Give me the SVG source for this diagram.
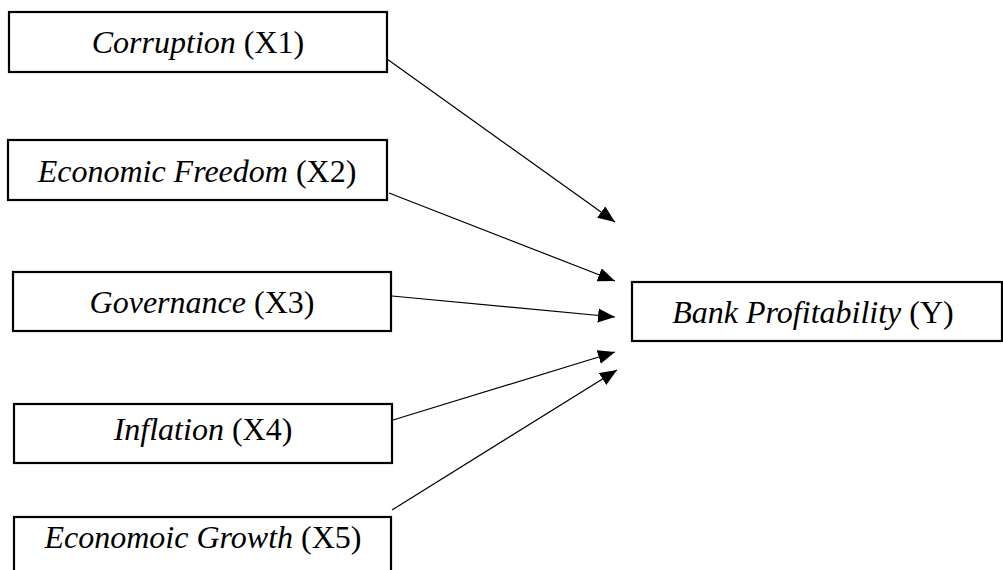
<svg xmlns="http://www.w3.org/2000/svg" width="1003" height="570" viewBox="0 0 1003 570">
<style>
.box{fill:#fff;stroke:#000;stroke-width:2.2}
.lbl{font-family:"Liberation Serif","Times New Roman",serif;font-size:32px;fill:#000;text-anchor:middle}
.it{font-style:italic}
.conn line{stroke:#000;stroke-width:1.2;fill:none}
</style>
<defs>
<marker id="ah" markerUnits="userSpaceOnUse" markerWidth="18" markerHeight="15" refX="17" refY="7" orient="auto">
<path d="M0,0 L17,7 L0,14 Z" fill="#000"/>
</marker>
</defs>
<rect width="1003" height="570" fill="#fff"/>
<g id="x1">
<rect class="box" x="9" y="12" width="378" height="60"/>
<text class="lbl" x="198" y="53"><tspan class="it">Corruption</tspan> (X1)</text>
</g>
<g id="x2">
<rect class="box" x="8" y="140" width="379" height="60"/>
<text class="lbl" x="197" y="182"><tspan class="it">Economic Freedom</tspan> (X2)</text>
</g>
<g id="x3">
<rect class="box" x="13" y="272" width="378" height="59"/>
<text class="lbl" x="202" y="313"><tspan class="it">Governance</tspan> (X3)</text>
</g>
<g id="x4">
<rect class="box" x="14" y="404" width="378" height="59"/>
<text class="lbl" x="203" y="440"><tspan class="it">Inflation</tspan> (X4)</text>
</g>
<g id="x5">
<rect class="box" x="14" y="517" width="377" height="60"/>
<text class="lbl" x="203" y="548"><tspan class="it">Economoic Growth</tspan> (X5)</text>
</g>
<g id="y">
<rect class="box" x="632" y="282" width="370" height="59"/>
<text class="lbl" x="813" y="323"><tspan class="it">Bank Profitability</tspan> (Y)</text>
</g>
<g id="connectors" class="conn">
<line x1="387" y1="59" x2="615" y2="222" marker-end="url(#ah)"/>
<line x1="389" y1="193" x2="615" y2="281" marker-end="url(#ah)"/>
<line x1="392" y1="296" x2="615" y2="317" marker-end="url(#ah)"/>
<line x1="393" y1="420" x2="615" y2="352" marker-end="url(#ah)"/>
<line x1="392" y1="510" x2="617" y2="370" marker-end="url(#ah)"/>
</g>
</svg>
